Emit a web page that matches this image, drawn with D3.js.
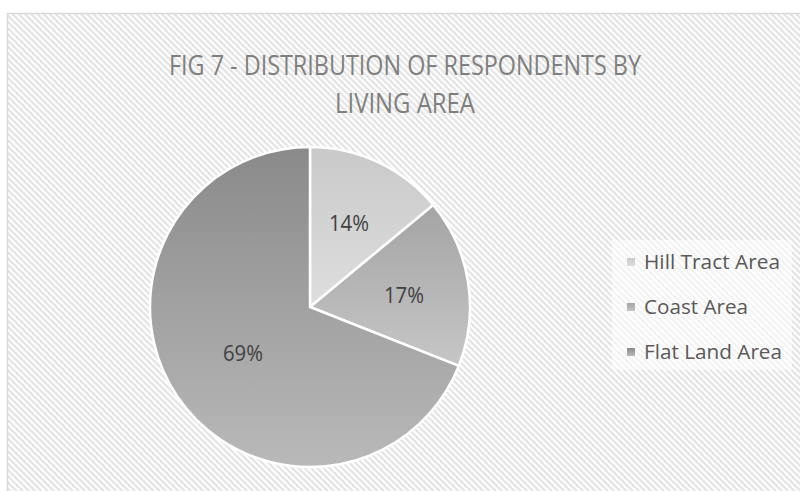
<!DOCTYPE html>
<html><head><meta charset="utf-8">
<script src="https://cdn.jsdelivr.net/npm/d3@7"></script>
<style>body{margin:0;background:#fff}svg{display:block}</style>
</head><body>
<script>
const categories = ["Hill Tract Area", "Coast Area", "Flat Land Area"];
const values = [14, 17, 69];
const labels = ["14%", "17%", "69%"];
const titleLines = ["FIG 7 - DISTRIBUTION OF RESPONDENTS BY", "LIVING AREA"];

const W = 800, H = 491;
const svg = d3.select("body").append("svg").attr("width", W).attr("height", H);
const defs = svg.append("defs");

const pat = defs.append("pattern").attr("id", "stripes")
  .attr("patternUnits", "userSpaceOnUse").attr("width", 4.4).attr("height", 4.4)
  .attr("patternTransform", "rotate(45)");
pat.append("rect").attr("width", 4.4).attr("height", 4.4).attr("fill", "#ffffff");
pat.append("rect").attr("width", 4.4).attr("height", 2.2).attr("fill", "#e3e3e3");

const grads = [["#c9c9c9", "#dedede"], ["#a4a4a4", "#c6c6c6"], ["#8a8a8a", "#b9b9b9"]];
grads.forEach((g, i) => {
  const lg = defs.append("linearGradient").attr("id", "g" + i)
    .attr("x1", 0).attr("y1", 0).attr("x2", 0).attr("y2", 1);
  lg.append("stop").attr("offset", "0%").attr("stop-color", g[0]);
  lg.append("stop").attr("offset", "100%").attr("stop-color", g[1]);
});

svg.append("rect").attr("x", 7.5).attr("y", 13.5).attr("width", W).attr("height", H)
  .attr("fill", "url(#stripes)").attr("stroke", "#d9d9d9").attr("stroke-width", 1.5);

// title
const title = svg.append("g").attr("font-family", "Open Sans, sans-serif")
  .attr("fill", "#7f7f7f").attr("text-anchor", "middle").attr("font-size", 28);
const tw = [472, 140];
const ty = [75, 112.5];
titleLines.forEach((t, i) => {
  title.append("text").attr("x", 405).attr("y", ty[i]).text(t)
    .attr("textLength", tw[i]).attr("lengthAdjust", "spacingAndGlyphs");
});

// pie
const cx = 310, cy = 307, r = 160;
const pie = d3.pie().sort(null).value(d => d)(values);
const arc = d3.arc().innerRadius(0).outerRadius(r);
const g = svg.append("g").attr("transform", `translate(${cx},${cy})`);
g.selectAll("path").data(pie).join("path")
  .attr("d", arc)
  .attr("fill", (d, i) => `url(#g${i})`)
  .attr("stroke", "#ffffff").attr("stroke-width", 2.5).attr("stroke-linejoin", "round");

const labelPos = [[349, 224], [404, 296], [243, 354]];
const labelW = [40, 40, 40];
g.selectAll("text.lbl").data(pie).join("text").attr("class", "lbl")
  .attr("x", (d, i) => labelPos[i][0] - cx)
  .attr("y", (d, i) => labelPos[i][1] - cy)
  .attr("dy", "0.35em")
  .attr("text-anchor", "middle")
  .attr("font-family", "Open Sans, sans-serif").attr("font-size", 21)
  .attr("fill", "#404040")
  .attr("textLength", (d, i) => labelW[i]).attr("lengthAdjust", "spacingAndGlyphs")
  .text((d, i) => labels[i]);

// legend
svg.append("rect").attr("x", 612).attr("y", 240).attr("width", 180).attr("height", 130)
  .attr("fill", "#ffffff").attr("opacity", 0.55);
const color = d3.scaleOrdinal().domain(categories).range(grads.map((g, i) => `url(#g${i})`));
const ly = d3.scalePoint().domain(categories).range([262, 352]);
const legW = [136, 104, 138];
const leg = svg.append("g");
categories.forEach((c, i) => {
  leg.append("rect").attr("x", 627).attr("y", ly(c) - 4).attr("width", 8).attr("height", 8)
    .attr("fill", color(c));
  leg.append("text").attr("x", 644).attr("y", ly(c)).attr("dy", "0.35em")
    .attr("font-family", "Open Sans, sans-serif").attr("font-size", 20)
    .attr("textLength", legW[i]).attr("lengthAdjust", "spacingAndGlyphs")
    .attr("fill", "#595959").text(c);
});
</script>
</body></html>
